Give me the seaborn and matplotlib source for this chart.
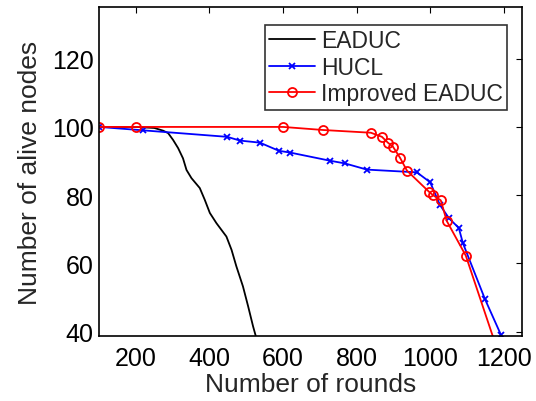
import pandas as pd
import matplotlib
matplotlib.use('Agg')
import matplotlib.pyplot as plt
import seaborn as sns

# Datos
eaduc_x = [100, 200, 250, 274, 287.5, 301, 314.7, 328, 337.5, 351, 373.6, 387, 401, 419,
           446, 460, 473, 491, 505, 518.5, 526]
eaduc_y = [100, 100, 99.7, 98.9, 98.2, 96.2, 93.8, 90.8, 87.4, 85, 82.1, 78.7, 74.8, 71.8,
           67.9, 64, 59.2, 53.3, 47.5, 41.6, 38.7]

hucl_x = [100, 220, 448, 483, 537, 589, 619, 728, 769, 828, 964, 1000, 1027, 1051, 1078, 1089, 1149, 1193]
hucl_y = [100, 99, 97.1, 96, 95.4, 93, 92.5, 90.1, 89.3, 87.5, 86.7, 83.8, 77.1, 73.3, 70.4, 66, 49.6, 39]

imp_x = [100, 200, 600, 709, 839, 869, 885, 899, 918, 937, 997, 1008, 1029, 1045, 1097, 1185]
imp_y = [100, 100, 100, 99.1, 98.3, 97.1, 95.4, 94.2, 91, 87.2, 81, 80, 78.5, 72.5, 62.3, 34]

sns.set_style('white')
plt.rcParams['font.family'] = ['Liberation Sans', 'DejaVu Sans']

fig = plt.figure(figsize=(5.36, 4.02), dpi=100)
ax = fig.add_axes([0.185, 0.162, 0.789, 0.817])

sns.lineplot(x=eaduc_x, y=eaduc_y, ax=ax, color='black', lw=1.3, sort=False, label='EADUC')
sns.lineplot(x=hucl_x, y=hucl_y, ax=ax, color='blue', lw=1.3, sort=False, marker='x',
             markersize=5, markeredgewidth=1.3, markeredgecolor='blue', label='HUCL')
sns.lineplot(x=imp_x, y=imp_y, ax=ax, color='red', lw=1.3, sort=False, marker='o',
             markersize=6.5, markerfacecolor='none', markeredgecolor='red', markeredgewidth=1.3,
             label='Improved EADUC')

ax.set_xlim(100, 1250)
ax.set_ylim(38.8, 135)
ax.set_xticks([200, 400, 600, 800, 1000, 1200])
ax.set_yticks([40, 60, 80, 100, 120])
ax.tick_params(direction='in', top=True, right=True, length=4, width=0.8,
               labelsize=18, colors='black')
ax.tick_params(axis='x', pad=7.5)
ax.tick_params(axis='y', pad=4)
for s in ax.spines.values():
    s.set_color('black')
    s.set_linewidth(1.2)
ax.set_xlabel('Number of rounds', fontsize=19, labelpad=1)
ax.set_ylabel('Number of alive nodes', fontsize=19, labelpad=7)

leg = ax.legend(loc='upper right', bbox_to_anchor=(0.965, 0.948), fontsize=16.5,
                frameon=True, fancybox=False, handlelength=2.0, handletextpad=0.25,
                borderpad=0.2, labelspacing=0.15, borderaxespad=0.0)
leg.get_frame().set_edgecolor('black')
leg.get_frame().set_linewidth(1.2)

fig.savefig('out.png', dpi=100)
